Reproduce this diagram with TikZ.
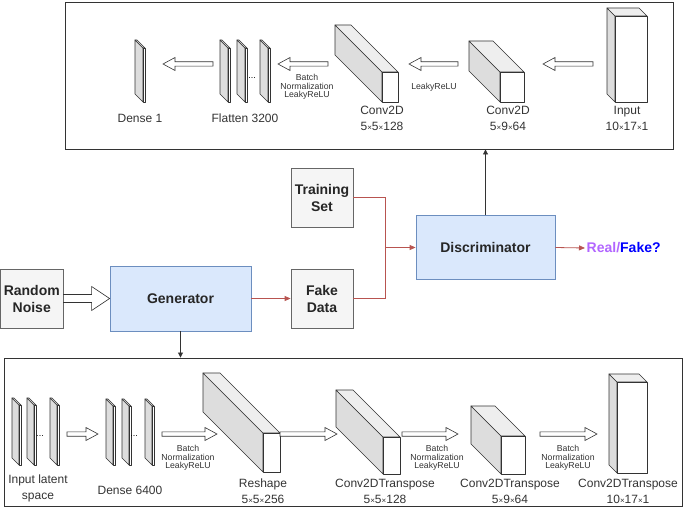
\documentclass[tikz,border=0pt]{standalone}
\usepackage{fontspec}
\setmainfont{Liberation Sans}
\usetikzlibrary{arrows.meta,calc}
\definecolor{sidegrey}{HTML}{DDDDDD}
\definecolor{topgrey}{HTML}{EEEEEE}
\definecolor{edgegrey}{HTML}{333333}
\definecolor{boxfill}{HTML}{F5F5F5}
\definecolor{boxdraw}{HTML}{666666}
\definecolor{netfill}{HTML}{DAE8FC}
\definecolor{netdraw}{HTML}{6C8EBF}
\definecolor{flow}{HTML}{B85450}
\definecolor{realc}{HTML}{B266FF}
\definecolor{fakec}{HTML}{0000FF}
\newcommand{\tms}{{\fontsize{8}{8}\selectfont ×}}
% cuboid: front face top-left (#1,#2), width #3, height #4, depth #5
\newcommand{\cuboid}[5]{%
  \filldraw[cubeline, fill=sidegrey] (#1-#5,#2-#5) -- (#1,#2) -- (#1,#2+#4) -- (#1-#5,#2+#4-#5) -- cycle;
  \filldraw[cubeline, fill=topgrey] (#1-#5,#2-#5) -- (#1+#3-#5,#2-#5) -- (#1+#3,#2) -- (#1,#2) -- cycle;
  \filldraw[cubeline, fill=white] (#1,#2) rectangle (#1+#3,#2+#4);}
% thin slab: back top-left (#1,#2), depth #3, height #4
\newcommand{\slab}[4]{\cuboid{#1+#3}{#2+#3}{2}{#4}{#3}}
% hollow arrow: from #1 to #2, shaft #3, head #4, head length #5
\newcommand{\fatarrow}[5]{%
  \draw[fatline] let \p1=(#1), \p2=(#2), \n1={ifthenelse(\x2>\x1,#5,-#5)} in
    (\x1,\y1+#3) -- (\x2-\n1,\y1+#3) -- (\x2-\n1,\y1+#4) -- (\x2,\y1)
    -- (\x2-\n1,\y1-#4) -- (\x2-\n1,\y1-#3) -- (\x1,\y1-#3) -- cycle;}

\begin{document}
\begin{tikzpicture}[x=1pt,y=-1pt,
    cubeline/.style={draw=edgegrey, line width=0.6pt, line join=round},
    fatline/.style={draw=edgegrey, fill=white, line width=0.6pt},
    panel/.style={draw=edgegrey, line width=0.9pt, inner sep=0pt},
    lbl/.style={font=\fontsize{12}{16}\selectfont, align=center, inner sep=0pt, text=edgegrey},
    bnlbl/.style={font=\fontsize{8.7}{8.6}\selectfont, align=center, inner sep=0pt, text=edgegrey},
    dots/.style={font=\fontsize{9}{9}\selectfont, inner sep=0pt},
    greybox/.style={draw=boxdraw, fill=boxfill, line width=0.8pt, align=center,
      font=\bfseries\fontsize{14}{17}\selectfont, text=black!85, inner sep=0pt},
    netbox/.style={draw=netdraw, fill=netfill, line width=0.8pt, align=center,
      font=\bfseries\fontsize{14}{17}\selectfont, text=black!85, inner sep=0pt},
    flowline/.style={draw=flow, line width=0.8pt},
    flowarrow/.style={flowline, -{Triangle[length=6pt,width=5pt]}},
    linkarrow/.style={draw=edgegrey, line width=0.8pt, -{Triangle[length=5pt,width=5pt]}}]
\useasboundingbox (0,0) rectangle (685,508);

% Discriminator network (top)
\node[panel, minimum width=608, minimum height=147] (dnet) at (369,75.5) {};
\cuboid{615}{16}{32}{86}{8}
\cuboid{500}{72}{24}{30}{31}
\cuboid{382}{72}{16}{30}{47}
\slab{220}{40}{8}{54}
\slab{237}{40}{8}{54}
\slab{260}{40}{8}{54}
\node[dots] (fdots) at (252,78) {...};
\slab{135}{40}{8}{54}
\node[lbl] (inlbl) at (627,118) {Input\\10\tms17\tms1};
\node[lbl] (c64lbl) at (508,118) {Conv2D\\5\tms9\tms64};
\node[lbl] (c128lbl) at (382,118) {Conv2D\\5\tms5\tms128};
\node[lbl] (flatlbl) at (245,118) {Flatten 3200};
\node[lbl] (d1lbl) at (140,118) {Dense 1};
\node[bnlbl] (dact1) at (434,87) {LeakyReLU};
\node[bnlbl] (dact2) at (307,87) {Batch\\Normalization\\LeakyReLU};
% hollow arrows, top row
\coordinate (da1s) at (593,64); \coordinate (da1e) at (543,64);
\coordinate (da2s) at (458,64); \coordinate (da2e) at (409,64);
\coordinate (da3s) at (328,64); \coordinate (da3e) at (278,64);
\coordinate (da4s) at (213,64); \coordinate (da4e) at (163,64);
\fatarrow{da1s}{da1e}{2.2}{6.5}{12}
\fatarrow{da2s}{da2e}{2.2}{6.5}{12}
\fatarrow{da3s}{da3e}{2.2}{6.5}{12}
\fatarrow{da4s}{da4e}{2.2}{6.5}{12}

% GAN blocks (middle)
\node[greybox, minimum width=62.5, minimum height=59] (noise) at (31.75,298.5) {Random\\Noise};
\node[netbox, minimum width=141, minimum height=65] (gen) at (180.5,298.5) {Generator};
\node[greybox, minimum width=62, minimum height=59] (fake) at (322,298.5) {Fake\\Data};
\node[greybox, minimum width=62, minimum height=59] (train) at (322,197.5) {Training\\Set};
\node[netbox, minimum width=139, minimum height=64] (disc) at (485.5,247.5) {Discriminator};
\node[font=\bfseries\fontsize{14}{17}\selectfont, anchor=west, inner sep=1.5pt] (out) at (585,248)
  {\textcolor{realc}{Real/}\textcolor{fakec}{Fake?}};
\coordinate (join) at (385,247.5);
\fatarrow{noise.east}{gen.west}{4}{12}{18}
\draw[flowarrow] (gen) -- (fake);
\draw[flowline] (train.east) -| (join);
\draw[flowline] (fake.east) -| (join);
\draw[flowarrow] (join) -- (disc.west);
\draw[flowarrow] (disc.east) -- (out.west);
\draw[linkarrow] (disc.north) -- (disc.north |- dnet.south);

% Generator network (bottom)
\node[panel, minimum width=678, minimum height=148] (gnet) at (343,432) {};
\draw[linkarrow] (gen.south) -- (gen.south |- gnet.north);
\slab{12}{398}{7}{60}
\slab{27}{398}{7}{60}
\slab{50}{398}{7}{60}
\node[dots] (ldots) at (40,436) {...};
\slab{106}{399}{7}{59}
\slab{122}{399}{7}{59}
\slab{145}{399}{7}{59}
\node[dots] (ddots) at (134,436) {...};
\cuboid{263}{433}{17}{39}{60}
\cuboid{383}{437}{17}{37}{47}
\cuboid{501}{436}{24}{38}{30}
\cuboid{617}{382}{30}{91}{8}
\node[lbl] (latlbl) at (38,488) {Input latent\\space};
\node[lbl] (d64lbl) at (130,490) {Dense 6400};
\node[lbl] (reslbl) at (263,491) {Reshape\\5\tms5\tms256};
\node[lbl] (t128lbl) at (385,491) {Conv2DTranspose\\5\tms5\tms128};
\node[lbl] (t64lbl) at (510,491) {Conv2DTranspose\\5\tms9\tms64};
\node[lbl] (t1lbl) at (628,491) {Conv2DTranspose\\10\tms17\tms1};
\node[bnlbl] (gact1) at (188,458) {Batch\\Normalization\\LeakyReLU};
\node[bnlbl] (gact2) at (437,458) {Batch\\Normalization\\LeakyReLU};
\node[bnlbl] (gact3) at (568,458) {Batch\\Normalization\\LeakyReLU};
% hollow arrows, bottom row
\coordinate (ga1s) at (67,434); \coordinate (ga1e) at (98,434);
\coordinate (ga2s) at (162,434); \coordinate (ga2e) at (217,434);
\coordinate (ga3s) at (280,434); \coordinate (ga3e) at (337,434);
\coordinate (ga4s) at (402,434); \coordinate (ga4e) at (458,434);
\coordinate (ga5s) at (540,434); \coordinate (ga5e) at (597,434);
\fatarrow{ga1s}{ga1e}{2.2}{6.5}{12}
\fatarrow{ga2s}{ga2e}{2.2}{6.5}{12}
\fatarrow{ga3s}{ga3e}{2.2}{6.5}{12}
\fatarrow{ga4s}{ga4e}{2.2}{6.5}{12}
\fatarrow{ga5s}{ga5e}{2.2}{6.5}{12}
\end{tikzpicture}
\end{document}
